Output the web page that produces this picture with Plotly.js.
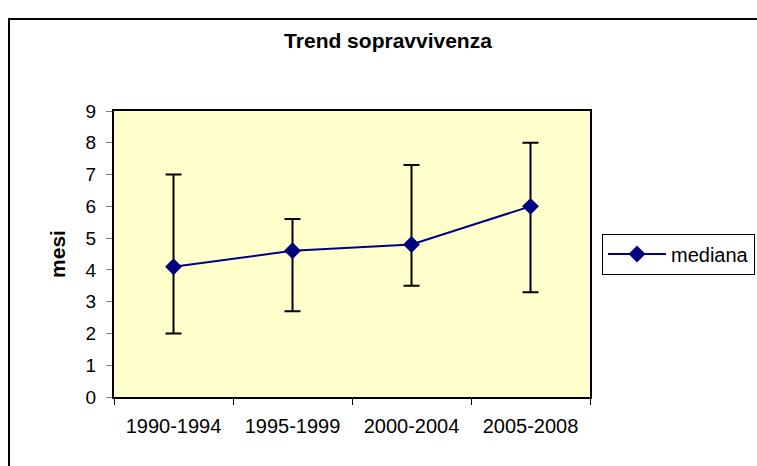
<!DOCTYPE html>
<html>
<head>
<meta charset="utf-8">
<script src="https://cdn.plot.ly/plotly-3.0.1.min.js"></script>
<style>
  html, body { margin: 0; padding: 0; background: #ffffff; overflow: hidden; }
  #wrap { position: relative; width: 757px; height: 466px; overflow: hidden; }
  #chart { position: absolute; left: 0; top: 0; width: 757px; height: 466px; }
  #frame { position: absolute; left: 8px; top: 18px; width: 800px; height: 500px;
           border: 2px solid #000000; pointer-events: none; z-index: 10; box-sizing: border-box; }
</style>
</head>
<body>
<div id="wrap">
  <div id="chart"></div>
  <div id="frame"></div>
</div>
<script>
// Data
var categories = ['1990-1994', '1995-1999', '2000-2004', '2005-2008'];
var mediana    = [4.1, 4.6, 4.8, 6.0];
var upperBound = [7.0, 5.6, 7.3, 8.0];
var lowerBound = [2.0, 2.7, 3.5, 3.3];
var yTicks     = [0, 1, 2, 3, 4, 5, 6, 7, 8, 9];

var errPlus  = upperBound.map(function (u, i) { return +(u - mediana[i]).toFixed(3); });
var errMinus = lowerBound.map(function (l, i) { return +(mediana[i] - l).toFixed(3); });

var FONT = 'Liberation Sans, Arial, sans-serif';

var trace = {
  type: 'scatter',
  mode: 'lines+markers',
  name: 'mediana',
  x: categories,
  y: mediana,
  line: { color: '#000080', width: 2 },
  marker: { symbol: 'diamond', size: 13, color: '#000080' },
  error_y: {
    type: 'data',
    symmetric: false,
    array: errPlus,
    arrayminus: errMinus,
    color: '#000000',
    thickness: 2,
    width: 8
  }
};

var layout = {
  width: 757,
  height: 466,
  margin: { l: 114, r: 167, t: 111, b: 69, autoexpand: false },
  paper_bgcolor: '#ffffff',
  plot_bgcolor: '#FFFFCC',
  showlegend: true,
  title: {
    text: '<b>Trend sopravvivenza</b>',
    font: { family: FONT, size: 21, color: '#000000' },
    xref: 'container', yref: 'container',
    x: 388 / 757, xanchor: 'center',
    y: 1 - 41 / 466, yanchor: 'middle'
  },
  xaxis: {
    type: 'category',
    range: [-0.5, 3.5],
    tickson: 'boundaries',
    ticks: 'outside',
    ticklen: 6,
    tickwidth: 1,
    tickcolor: '#000000',
    showgrid: false,
    zeroline: false,
    showline: true,
    linecolor: '#000000',
    linewidth: 2,
    mirror: true,
    tickfont: { family: FONT, size: 20, color: '#000000' },
    ticklabelstandoff: 10
  },
  yaxis: {
    range: [0, 9],
    tickmode: 'array',
    tickvals: yTicks,
    ticktext: yTicks.map(String),
    ticks: 'outside',
    ticklen: 6,
    tickwidth: 1,
    tickcolor: '#808080',
    showgrid: false,
    zeroline: false,
    showline: true,
    linecolor: '#000000',
    linewidth: 2,
    mirror: true,
    tickfont: { family: FONT, size: 19, color: '#000000' },
    ticklabelstandoff: 6,
    title: {
      text: '<b>mesi</b>',
      font: { family: FONT, size: 21, color: '#000000' },
      standoff: 14
    }
  },
  legend: {
    x: (602 - 114) / (757 - 114 - 167),
    xanchor: 'left',
    y: 0.5,
    yanchor: 'middle',
    bgcolor: '#ffffff',
    bordercolor: '#000000',
    borderwidth: 1,
    font: { family: FONT, size: 20, color: '#000000' },
    itemwidth: 58
  }
};

Plotly.newPlot('chart', [trace], layout, { displayModeBar: false, staticPlot: true });
</script>
</body>
</html>
